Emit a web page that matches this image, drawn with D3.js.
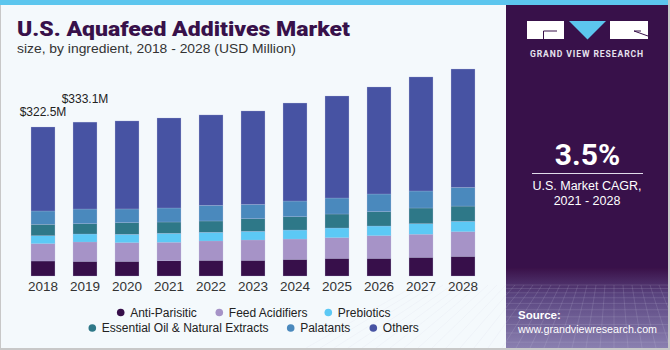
<!DOCTYPE html>
<html><head><meta charset="utf-8">
<script src="https://cdn.jsdelivr.net/npm/d3@7"></script>
<style>body{margin:0;padding:0;background:#fff}svg{display:block}</style>
</head><body><svg id="c" width="670" height="350"></svg>
<script>
const years = ["2018","2019","2020","2021","2022","2023","2024","2025","2026","2027","2028"];
const seriesNames = ["Anti-Parisitic","Feed Acidifiers","Prebiotics","Essential Oil & Natural Extracts","Palatants","Others"];
const antiParisitic   = [32.5,31.8,31.8,33.1,34.0,34.0,36.1,38.3,38.3,40.5,42.6];
const feedAcidifiers  = [37.4,41.8,40.3,39.8,41.8,43.9,43.9,44.6,48.9,49.8,53.2];
const prebiotics      = [17.3,17.3,18.2,19.5,18.8,18.8,19.5,21.0,21.0,22.9,22.5];
const essentialOil    = [24.7,22.3,25.1,24.5,24.5,27.3,28.8,30.3,31.0,34.0,33.1];
const palatants       = [28.8,31.8,29.7,30.3,34.0,31.2,34.0,34.6,38.3,36.8,40.5];
const others          = [181.8,188.1,190.5,194.8,195.5,202.0,212.1,220.8,231.6,246.8,256.1];
const valueLabelYears = ["2018","2019"];
const valueLabelTexts = ["$322.5M","$333.1M"];
const colors = ["#370f4a","#a693c7","#5cc9f5","#2e7888","#4a89bd","#4753a3"];

const svg = d3.select("#c");
// background
svg.append("rect").attr("width",670).attr("height",350).attr("fill","#f4f9fc");
svg.append("rect").attr("x",0).attr("y",0).attr("width",1).attr("height",350).attr("fill","#c8c8c8");
svg.append("rect").attr("x",0).attr("y",0).attr("width",670).attr("height",5).attr("fill","#5cc6ee");

// right panel
const defs = svg.append("defs");
const grad = defs.append("linearGradient").attr("id","pg").attr("x1",0).attr("y1",0).attr("x2",0).attr("y2",1);
grad.append("stop").attr("offset","0%").attr("stop-color","#3a1149");
grad.append("stop").attr("offset","35%").attr("stop-color","#5a4580");
grad.append("stop").attr("offset","100%").attr("stop-color","#8a80b0");
svg.append("rect").attr("x",506).attr("y",5).attr("width",162).attr("height",343).attr("fill","#38114a");
svg.append("rect").attr("x",506).attr("y",268).attr("width",162).attr("height",80).attr("fill","url(#pg)");
// faint grid
const gridG = svg.append("g").attr("stroke","#d0d0e8").attr("stroke-opacity",0.22).attr("stroke-width",0.7);
for(let i=0;i<14;i++){ const yy=285+i*i*0.35+i*3.2; if(yy<348) gridG.append("line").attr("x1",506).attr("x2",668).attr("y1",yy).attr("y2",yy);}
for(let i=-10;i<=20;i++){ const xTop=506+i*9, xBot=506+i*14-60; gridG.append("line").attr("x1",xTop).attr("y1",285).attr("x2",xBot).attr("y2",348);}
svg.append("rect").attr("x",668).attr("y",0).attr("width",2).attr("height",350).attr("fill","#c8c8c8");
svg.append("rect").attr("x",0).attr("y",348).attr("width",670).attr("height",2).attr("fill","#c8c8c8");

// logo
const lg = svg.append("g");
lg.append("rect").attr("x",527).attr("y",21).attr("width",37).attr("height",18).attr("fill","#fff");
lg.append("path").attr("d","M569,21 L606,21 L587.5,39.5 Z").attr("fill","#5cc6ee");
lg.append("rect").attr("x",610).attr("y",21).attr("width",38).attr("height",18).attr("fill","#fff");
lg.append("path").attr("d","M543.5,39 L543.5,31 L557,31").attr("fill","none").attr("stroke","#38114a").attr("stroke-width",1);
lg.append("path").attr("d","M634,31 L648,36").attr("fill","none").attr("stroke","#38114a").attr("stroke-width",1);
lg.append("path").attr("d","M634,31 L641,31").attr("fill","none").attr("stroke","#38114a").attr("stroke-width",1);
svg.append("text").attr("x",587).attr("y",56.5).attr("text-anchor","middle").attr("fill","#e6e2ee")
  .attr("font-family","Roboto, sans-serif").attr("font-weight",700).attr("font-size",8.6).attr("letter-spacing",0.9).text("GRAND VIEW RESEARCH");

svg.append("text").attr("x",587.5).attr("y",165).attr("text-anchor","middle").attr("fill","#fff")
  .attr("font-family","Roboto, sans-serif").attr("font-weight",700).attr("font-size",30).text("3.5%");
svg.append("line").attr("x1",532).attr("x2",643).attr("y1",173.5).attr("y2",173.5).attr("stroke","#e0dcea").attr("stroke-width",1);
svg.append("text").attr("x",587).attr("y",189.5).attr("text-anchor","middle").attr("fill","#fff")
  .attr("font-family","Liberation Sans, Arial, sans-serif").attr("font-size",12.5).text("U.S. Market CAGR,");
svg.append("text").attr("x",587).attr("y",204.5).attr("text-anchor","middle").attr("fill","#fff")
  .attr("font-family","Liberation Sans, Arial, sans-serif").attr("font-size",12.5).text("2021 - 2028");
svg.append("text").attr("x",518).attr("y",319).attr("fill","#fff")
  .attr("font-family","Liberation Sans, Arial, sans-serif").attr("font-weight",700).attr("font-size",11.5).text("Source:");
svg.append("text").attr("x",518).attr("y",333).attr("fill","#fff")
  .attr("font-family","Liberation Sans, Arial, sans-serif").attr("font-size",11).attr("textLength",139).attr("lengthAdjust","spacingAndGlyphs").text("www.grandviewresearch.com");

// titles
svg.append("text").attr("x",17).attr("y",36).attr("fill","#38114a")
  .attr("font-family","Roboto, sans-serif").attr("font-weight",900).attr("font-size",21)
  .attr("textLength",333).attr("lengthAdjust","spacingAndGlyphs").text("U.S. Aquafeed Additives Market");
svg.append("text").attr("x",17).attr("y",53).attr("fill","#333")
  .attr("font-family","Liberation Sans, Arial, sans-serif").attr("font-size",13.5)
  .attr("textLength",279).attr("lengthAdjust","spacingAndGlyphs").text("size, by ingredient, 2018 - 2028 (USD Million)");

// chart
const x = d3.scaleBand().domain(years).range([22,484]).paddingInner(0.43).paddingOuter(0.215);
const yMax = 500;
const y = d3.scaleLinear().domain([0,yMax]).range([276, 276 - 0.462*yMax]);
const arrays = [antiParisitic,feedAcidifiers,prebiotics,essentialOil,palatants,others];
const rows = years.map((yr,i)=>{const o={year:yr}; seriesNames.forEach((s,k)=>o[s]=arrays[k][i]); return o;});
const stack = d3.stack().keys(seriesNames)(rows);

const g = svg.append("g");
stack.forEach((layer,k)=>{
  g.selectAll(null).data(layer).enter().append("rect")
    .attr("x",d=>x(d.data.year)).attr("width",x.bandwidth())
    .attr("y",d=>y(d[1])).attr("height",d=>y(d[0])-y(d[1]))
    .attr("fill",colors[k]).attr("stroke","#b8bde0").attr("stroke-width",0.4).attr("stroke-opacity",0.6);
});

const xAxis = svg.append("g").attr("transform","translate(0,276)").call(d3.axisBottom(x).tickSize(0).tickPadding(0));
xAxis.select(".domain").remove();
xAxis.selectAll("text").attr("dy",null).attr("y",15).attr("font-family","Liberation Sans, Arial, sans-serif").attr("font-size",13.5).attr("fill","#333");

const totals = rows.map(r=>d3.sum(seriesNames,s=>r[s]));
const labelGaps = [11,19];
valueLabelYears.forEach((yr,j)=>{
  const i = years.indexOf(yr);
  svg.append("text").attr("x",x(yr)+x.bandwidth()/2).attr("y",y(totals[i])-labelGaps[j])
    .attr("text-anchor","middle").attr("fill","#222")
    .attr("font-family","Liberation Sans, Arial, sans-serif").attr("font-size",12).text(valueLabelTexts[j]);
});

// legend
const legendPos = [[120.7,312.5],[219.3,312.5],[328.3,312.5],[92.3,328],[290.7,328],[373.3,328]];
seriesNames.forEach((s,k)=>{
  const [cx,cy]=legendPos[k];
  svg.append("circle").attr("cx",cx).attr("cy",cy).attr("r",3.8).attr("fill",colors[k]);
  svg.append("text").attr("x",cx+9.5).attr("y",cy+4.3).attr("fill","#222")
    .attr("font-family","Liberation Sans, Arial, sans-serif").attr("font-size",12).text(s);
});
</script></body></html>
